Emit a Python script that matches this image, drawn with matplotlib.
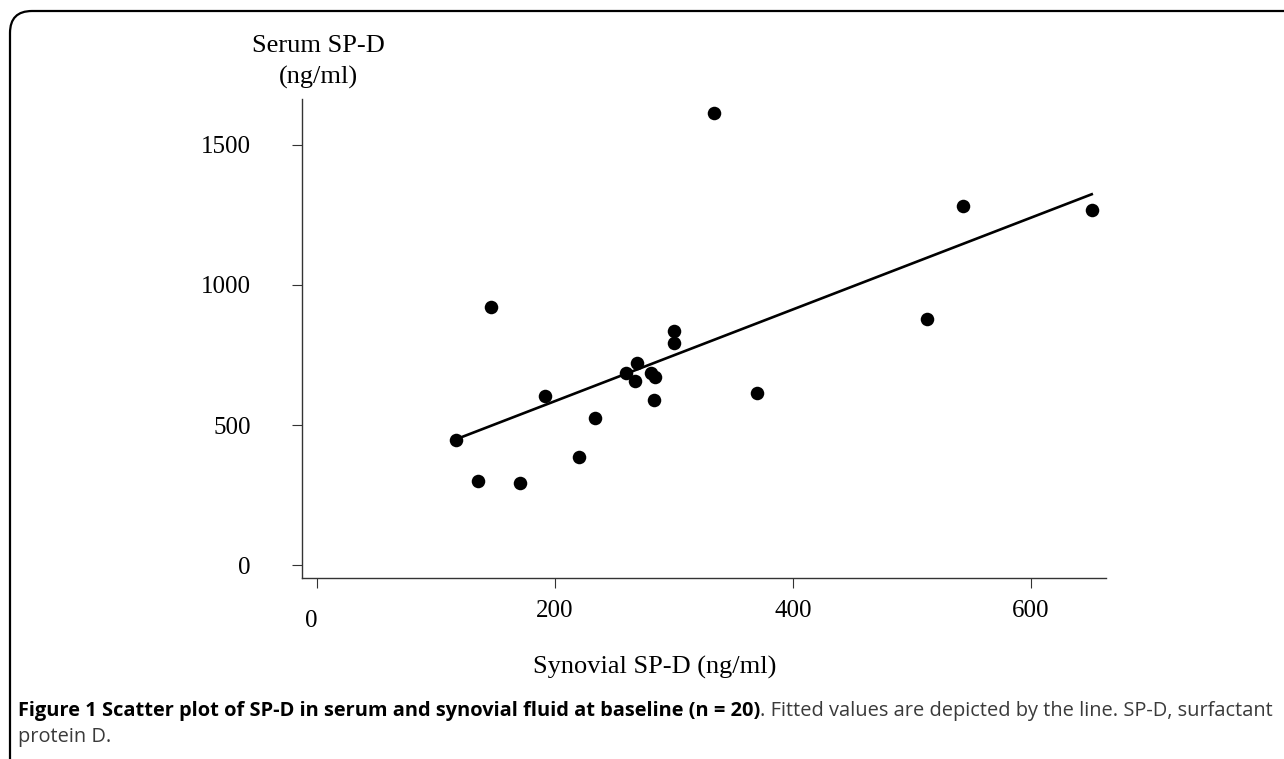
"""
Scatter plot of serum vs synovial SP-D with fitted line
"""

import numpy as np
import matplotlib
matplotlib.use("Agg")
import matplotlib.pyplot as plt
from matplotlib.patches import FancyBboxPatch
import matplotlib.transforms as mtransforms

# Data (ng/ml)
synovial_spd = [334, 543, 651, 146, 513, 300, 300, 269, 260, 267,
                281, 284, 192, 370, 283, 234, 117, 220, 135, 171]
serum_spd = [1614, 1282, 1268, 921, 879, 836, 793, 721, 686, 657,
             686, 671, 604, 614, 589, 525, 446, 386, 300, 293]

x_ticks = [0, 200, 400, 600]
y_ticks = [0, 500, 1000, 1500]

caption_bold = "Figure 1 Scatter plot of SP-D in serum and synovial fluid at baseline (n = 20)"
caption_rest = ". Fitted values are depicted by the line. SP-D, surfactant"
caption_line2 = "protein D."


def main():
    W, H = 1284, 759
    fig = plt.figure(figsize=(W / 100, H / 100), dpi=100)
    fig.patch.set_facecolor("white")

    serif = ["Liberation Serif", "DejaVu Serif"]

    # Rounded frame (only top and left edges visible, runs off the page)
    frame = FancyBboxPatch((10, -500), 3000, 500 + H - 11,
                           boxstyle="round,pad=0,rounding_size=22",
                           transform=None, fill=False,
                           edgecolor="black", linewidth=1.6)
    fig.patches.append(frame)

    ax = fig.add_axes([302 / W, 1 - 578 / H, (1106 - 302) / W, (578 - 99) / H])
    x = np.array(synovial_spd, dtype=float)
    y = np.array(serum_spd, dtype=float)

    ax.scatter(x, y, s=95, color="black", zorder=3, linewidths=0)

    # Fitted values
    slope, intercept = np.polyfit(x, y, 1)
    xs = np.array([x.min(), x.max()])
    ax.plot(xs, intercept + slope * xs, color="black", linewidth=1.9, zorder=2)

    ax.set_xlim(-12.6, 663)
    ax.set_ylim(-46, 1664)

    for side in ["top", "right"]:
        ax.spines[side].set_visible(False)
    for side in ["left", "bottom"]:
        ax.spines[side].set_color("#333333")
        ax.spines[side].set_linewidth(1.0)

    ax.set_xticks(x_ticks)
    ax.set_yticks(y_ticks)
    ax.tick_params(axis="both", direction="out", length=7, width=0.8, color="#333333")
    ax.tick_params(axis="y", pad=30)
    ax.tick_params(axis="x", pad=9)
    for lab in ax.get_xticklabels() + ax.get_yticklabels():
        lab.set_family(serif)
        lab.set_fontsize(18)

    # the "0" on the x axis sits a little lower and to the left
    xl0 = ax.get_xticklabels()[0]
    xl0.set_transform(xl0.get_transform() +
                      mtransforms.ScaledTranslation(-6 / 100, -10 / 100, fig.dpi_scale_trans))

    fig.text(318 / W, 1 - 62 / H, "Serum SP-D\n(ng/ml)", ha="center", va="center",
             family=serif, fontsize=19, linespacing=1.45)
    fig.text(655 / W, 1 - 667 / H, "Synovial SP-D (ng/ml)", ha="center", va="center",
             family=serif, fontsize=19)

    # Caption
    sans = ["Open Sans", "DejaVu Sans"]
    t1 = fig.text(18 / W, 1 - 711 / H, caption_bold, ha="left", va="center",
                  family=sans, fontsize=14.4, fontweight="bold", color="black")
    fig.canvas.draw()
    bb = t1.get_window_extent()
    fig.text(bb.x1 / W, 1 - 711 / H, caption_rest, ha="left", va="center",
             family=sans, fontsize=14.4, color="#3a3a3a")
    fig.text(18 / W, 1 - 737 / H, caption_line2, ha="left", va="center",
             family=sans, fontsize=14.4, color="#3a3a3a")

    fig.savefig("out.png", dpi=100)
    plt.close(fig)


if __name__ == "__main__":
    main()
